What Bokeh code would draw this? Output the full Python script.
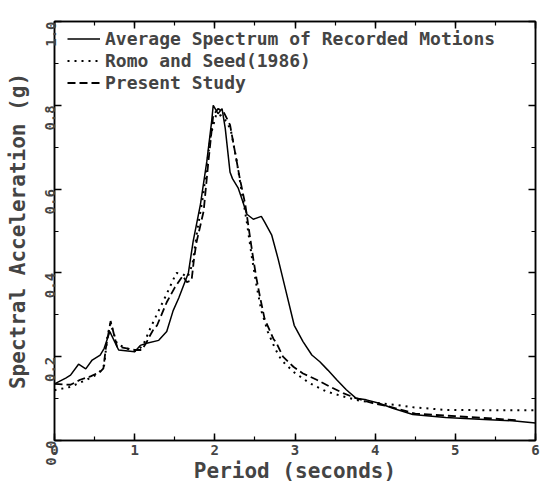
import math
from bokeh.plotting import figure
from bokeh.models import (LinearAxis, Range1d, SingleIntervalTicker, PrintfTickFormatter,
                          CustomLabelingPolicy)
from bokeh.embed import file_html
from bokeh.resources import INLINE

# Average Spectrum of Recorded Motions (solid)
avg_period = [0.0, 0.14, 0.2, 0.3, 0.39, 0.47, 0.57, 0.62, 0.69, 0.8, 1.0, 1.07, 1.15,
              1.3, 1.4, 1.48, 1.55, 1.63, 1.67, 1.73, 1.82, 1.9, 1.96, 1.98, 2.04, 2.09,
              2.13, 2.19, 2.22, 2.29, 2.34, 2.4, 2.48, 2.58, 2.62, 2.71, 2.79, 2.89, 2.99,
              3.1, 3.21, 3.31, 3.41, 3.52, 3.64, 3.76, 3.89, 4.05, 4.22, 4.47, 4.88, 5.3,
              5.71, 6.0]
avg_sa = [0.135, 0.149, 0.156, 0.182, 0.171, 0.192, 0.204, 0.22, 0.26, 0.216, 0.212, 0.227,
          0.232, 0.239, 0.26, 0.31, 0.34, 0.38, 0.40, 0.476, 0.563, 0.666, 0.761, 0.80, 0.78,
          0.792, 0.745, 0.64, 0.625, 0.603, 0.575, 0.54, 0.528, 0.535, 0.522, 0.49, 0.433,
          0.354, 0.275, 0.236, 0.204, 0.188, 0.168, 0.145, 0.121, 0.101, 0.097, 0.089, 0.077,
          0.062, 0.055, 0.051, 0.047, 0.042]

# Romo and Seed (1986) (dotted)
romo_period = [0.0, 0.2, 0.4, 0.55, 0.62, 0.66, 0.7, 0.78, 0.9, 1.0, 1.1, 1.2, 1.3, 1.4,
               1.52, 1.6, 1.66, 1.72, 1.78, 1.85, 1.95, 2.02, 2.08, 2.15, 2.2, 2.27, 2.33,
               2.4, 2.46, 2.52, 2.58, 2.66, 2.75, 2.83, 2.98, 3.18, 3.39, 3.6, 3.81, 4.05,
               4.26, 4.49, 4.88, 5.5, 6.0]
romo_sa = [0.12, 0.128, 0.145, 0.16, 0.18, 0.25, 0.28, 0.23, 0.22, 0.213, 0.225, 0.27, 0.31,
           0.35, 0.40, 0.397, 0.39, 0.42, 0.5, 0.58, 0.73, 0.78, 0.775, 0.76, 0.74, 0.67, 0.6,
           0.52, 0.44, 0.37, 0.31, 0.26, 0.22, 0.192, 0.164, 0.137, 0.117, 0.105, 0.095, 0.089,
           0.085, 0.079, 0.073, 0.072, 0.072]

# Present Study (dashed)
present_period = [0.0, 0.2, 0.32, 0.45, 0.57, 0.61, 0.64, 0.7, 0.78, 0.9, 1.0, 1.09, 1.15,
                  1.19, 1.24, 1.28, 1.4, 1.5, 1.6, 1.65, 1.71, 1.74, 1.77, 1.86, 1.92, 1.98,
                  2.04, 2.11, 2.19, 2.25, 2.31, 2.38, 2.44, 2.48, 2.52, 2.56, 2.62, 2.73, 2.77,
                  2.85, 2.98, 3.1, 3.27, 3.43, 3.6, 3.76, 3.97, 4.18, 4.5, 5.0, 5.5, 5.8]
present_sa = [0.135, 0.133, 0.145, 0.153, 0.164, 0.172, 0.22, 0.285, 0.224, 0.22, 0.216,
              0.216, 0.235, 0.25, 0.267, 0.275, 0.33, 0.365, 0.393, 0.378, 0.382, 0.433, 0.472,
              0.547, 0.666, 0.776, 0.792, 0.784, 0.753, 0.69, 0.627, 0.563, 0.484, 0.433, 0.386,
              0.346, 0.291, 0.243, 0.232, 0.2, 0.176, 0.16, 0.145, 0.129, 0.113, 0.101, 0.089,
              0.081, 0.064, 0.058, 0.052, 0.048]

FONT = "DejaVu Sans Mono"

p = figure(width=540, height=485, output_backend="svg", toolbar_location=None,
           x_range=Range1d(0, 6), y_range=Range1d(0, 1),
           min_border_left=54, min_border_right=3, min_border_top=21, min_border_bottom=42)
p.grid.visible = False
p.outline_line_color = "black"
p.outline_line_width = 1.5
p.background_fill_color = "white"
p.border_fill_color = "white"

p.line(avg_period, avg_sa, line_color="black", line_width=1.5,
       legend_label="Average Spectrum of Recorded Motions")
p.line(romo_period, romo_sa, line_color="black", line_width=2, line_dash="2 5",
       legend_label="Romo and Seed(1986)")
p.line(present_period, present_sa, line_color="black", line_width=1.8, line_dash="8 4",
       legend_label="Present Study")


def style(ax, labels=True):
    ax.major_tick_in = 7
    ax.major_tick_out = 0
    ax.minor_tick_in = 4
    ax.minor_tick_out = 0
    ax.major_tick_line_width = 1.5
    ax.minor_tick_line_width = 1.2
    ax.axis_line_width = 1.5
    ax.major_label_text_font = FONT
    ax.major_label_text_font_style = "bold"
    ax.major_label_text_font_size = "14px"
    ax.axis_label_text_font = FONT
    ax.axis_label_text_font_style = "bold"
    ax.axis_label_text_font_size = "21px"
    if not labels:
        ax.major_label_policy = CustomLabelingPolicy(
            code="for (const i of indices) indices.unset(i); return indices")
        ax.major_label_text_font_size = "1px"
        ax.major_label_standoff = 0
        ax.axis_label = None


xa = p.xaxis[0]
xa.ticker = SingleIntervalTicker(interval=1, num_minor_ticks=2)
style(xa)
xa.axis_label = "Period (seconds)"
xa.major_label_standoff = 4
xa.axis_label_standoff = 1

ya = p.yaxis[0]
ya.ticker = SingleIntervalTicker(interval=0.2, num_minor_ticks=2)
ya.formatter = PrintfTickFormatter(format="%.1f")
style(ya)
ya.axis_label = "Spectral Acceleration (g)"
ya.major_label_orientation = math.pi / 2
ya.major_label_standoff = 4
ya.axis_label_standoff = 8

top = LinearAxis(ticker=SingleIntervalTicker(interval=1, num_minor_ticks=2))
style(top, labels=False)
p.add_layout(top, "above")
right = LinearAxis(ticker=SingleIntervalTicker(interval=0.2, num_minor_ticks=2))
style(right, labels=False)
p.add_layout(right, "right")

lg = p.legend[0]
lg.location = (13, 347)
lg.margin = 0
lg.padding = 0
lg.spacing = 1
lg.border_line_color = None
lg.background_fill_alpha = 0
lg.glyph_width = 33
lg.glyph_height = 19
lg.label_height = 19
lg.label_standoff = 5
lg.label_text_font = FONT
lg.label_text_font_style = "bold"
lg.label_text_font_size = "18px"

open("out.html", "w").write(file_html(p, INLINE))
